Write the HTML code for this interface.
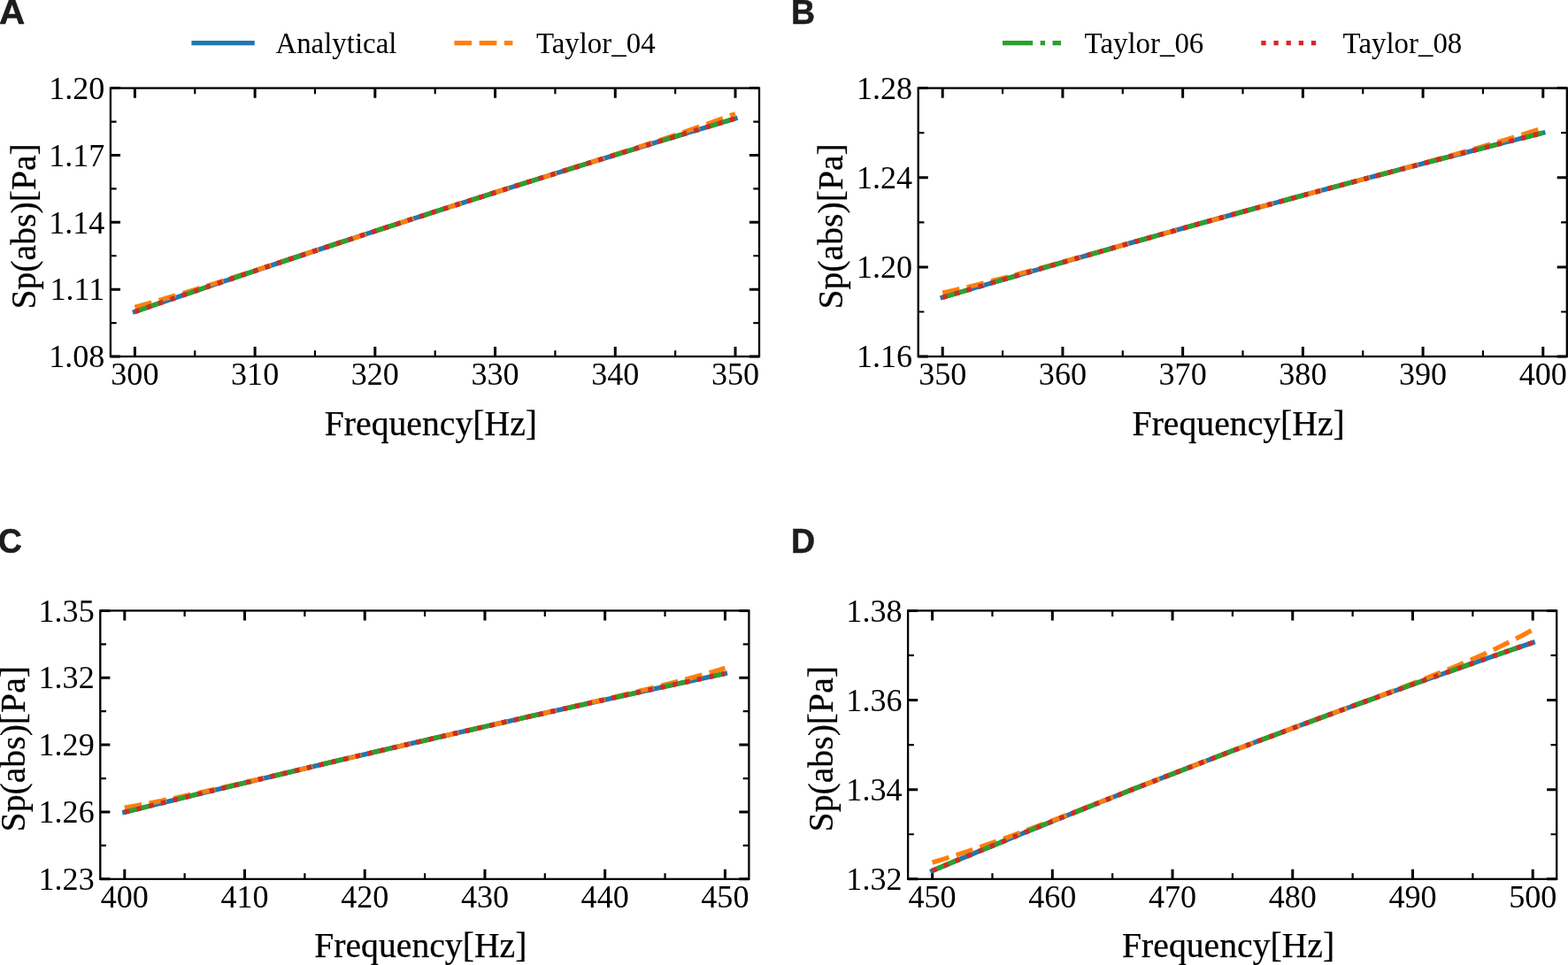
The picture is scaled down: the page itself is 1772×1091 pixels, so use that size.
<!DOCTYPE html>
<html lang="en"><head><meta charset="utf-8"><title>Sp(abs) vs Frequency: Analytical and Taylor expansions</title>
<style>html,body{margin:0;padding:0;background:#fff}body{width:1772px;height:1091px;overflow:hidden}svg{display:block}text{font-family:"Liberation Serif", "DejaVu Serif", serif;fill:#000}.al{stroke:#000;stroke-width:0.25px}.pl{font-family:"Liberation Sans", "DejaVu Sans", sans-serif;font-weight:700;fill:#1d1d1b;stroke:#1d1d1b;stroke-width:0.5px;stroke-linejoin:miter}</style>
</head><body>
<svg width="1772" height="1091" viewBox="0 0 1772 1091">
<rect width="1772" height="1091" fill="#fff"/>
<g>
<path d="M220.26 403.05v-6.7 M220.26 99.60v6.7 M355.98 403.05v-6.7 M355.98 99.60v6.7 M491.70 403.05v-6.7 M491.70 99.60v6.7 M627.42 403.05v-6.7 M627.42 99.60v6.7 M763.14 403.05v-6.7 M763.14 99.60v6.7 M124.90 365.12h6.7 M858.00 365.12h-6.7 M124.90 289.26h6.7 M858.00 289.26h-6.7 M124.90 213.39h6.7 M858.00 213.39h-6.7 M124.90 137.53h6.7 M858.00 137.53h-6.7" fill="none" stroke="#000" stroke-width="2.2"/>
<path d="M152.40 403.05v-11.1 M152.40 99.60v11.1 M288.12 403.05v-11.1 M288.12 99.60v11.1 M423.84 403.05v-11.1 M423.84 99.60v11.1 M559.56 403.05v-11.1 M559.56 99.60v11.1 M695.28 403.05v-11.1 M695.28 99.60v11.1 M831.00 403.05v-11.1 M831.00 99.60v11.1 M124.90 403.05h11.1 M858.00 403.05h-11.1 M124.90 327.19h11.1 M858.00 327.19h-11.1 M124.90 251.32h11.1 M858.00 251.32h-11.1 M124.90 175.46h11.1 M858.00 175.46h-11.1 M124.90 99.60h11.1 M858.00 99.60h-11.1" fill="none" stroke="#000" stroke-width="3"/>
<polyline points="152.40,352.40 165.97,347.73 179.54,343.07 193.12,338.42 206.69,333.78 220.26,329.16 233.83,324.55 247.40,319.95 260.98,315.36 274.55,310.79 288.12,306.23 301.69,301.68 315.26,297.14 328.84,292.62 342.41,288.11 355.98,283.61 369.55,279.12 383.12,274.65 396.70,270.19 410.27,265.74 423.84,261.30 437.41,256.88 450.98,252.46 464.56,248.06 478.13,243.68 491.70,239.30 505.27,234.94 518.84,230.59 532.42,226.25 545.99,221.92 559.56,217.61 573.13,213.31 586.70,209.02 600.28,204.74 613.85,200.48 627.42,196.23 640.99,191.99 654.56,187.76 668.14,183.55 681.71,179.35 695.28,175.16 708.85,170.98 722.42,166.82 736.00,162.67 749.57,158.53 763.14,154.40 776.71,150.29 790.28,146.18 803.86,142.09 817.43,138.02 831.00,133.95" fill="none" stroke="#1f77b4" stroke-width="5.333" stroke-linecap="square" stroke-linejoin="round"/>
<polyline points="152.40,347.20 165.97,343.49 179.54,339.64 193.12,335.67 206.69,331.61 220.26,327.46 233.83,323.23 247.40,318.94 260.98,314.61 274.55,310.23 288.12,305.83 301.69,301.39 315.26,296.95 328.84,292.49 342.41,288.02 355.98,283.56 369.55,279.09 383.12,274.63 396.70,270.18 410.27,265.73 423.84,261.30 437.41,256.87 450.98,252.46 464.56,248.06 478.13,243.68 491.70,239.30 505.27,234.94 518.84,230.59 532.42,226.25 545.99,221.92 559.56,217.61 573.13,213.30 586.70,209.01 600.28,204.73 613.85,200.45 627.42,196.18 640.99,191.90 654.56,187.63 668.14,183.35 681.71,179.06 695.28,174.75 708.85,170.41 722.42,166.05 736.00,161.64 749.57,157.18 763.14,152.66 776.71,148.07 790.28,143.39 803.86,138.60 817.43,133.69 831.00,128.65" fill="none" stroke="#ff7f0e" stroke-width="5.333" stroke-dasharray="19.732,8.533" stroke-linejoin="round"/>
<polyline points="152.40,352.40 165.97,347.73 179.54,343.07 193.12,338.42 206.69,333.78 220.26,329.16 233.83,324.55 247.40,319.95 260.98,315.36 274.55,310.79 288.12,306.23 301.69,301.68 315.26,297.14 328.84,292.62 342.41,288.11 355.98,283.61 369.55,279.12 383.12,274.65 396.70,270.19 410.27,265.74 423.84,261.30 437.41,256.88 450.98,252.46 464.56,248.06 478.13,243.68 491.70,239.30 505.27,234.94 518.84,230.59 532.42,226.25 545.99,221.92 559.56,217.61 573.13,213.31 586.70,209.02 600.28,204.74 613.85,200.48 627.42,196.23 640.99,191.99 654.56,187.76 668.14,183.55 681.71,179.35 695.28,175.16 708.85,170.98 722.42,166.82 736.00,162.67 749.57,158.53 763.14,154.40 776.71,150.29 790.28,146.18 803.86,142.09 817.43,138.02 831.00,133.95" fill="none" stroke="#2ca02c" stroke-width="5.333" stroke-dasharray="34.131,8.533,5.333,8.533" stroke-linejoin="round"/>
<polyline points="152.40,352.40 165.97,347.73 179.54,343.07 193.12,338.42 206.69,333.78 220.26,329.16 233.83,324.55 247.40,319.95 260.98,315.36 274.55,310.79 288.12,306.23 301.69,301.68 315.26,297.14 328.84,292.62 342.41,288.11 355.98,283.61 369.55,279.12 383.12,274.65 396.70,270.19 410.27,265.74 423.84,261.30 437.41,256.88 450.98,252.46 464.56,248.06 478.13,243.68 491.70,239.30 505.27,234.94 518.84,230.59 532.42,226.25 545.99,221.92 559.56,217.61 573.13,213.31 586.70,209.02 600.28,204.74 613.85,200.48 627.42,196.23 640.99,191.99 654.56,187.76 668.14,183.55 681.71,179.35 695.28,175.16 708.85,170.98 722.42,166.82 736.00,162.67 749.57,158.53 763.14,154.40 776.71,150.29 790.28,146.18 803.86,142.09 817.43,138.02 831.00,133.95" fill="none" stroke="#d62728" stroke-width="5.333" stroke-dasharray="5.333,8.799" stroke-linejoin="round"/>
<rect x="124.90" y="99.60" width="733.10" height="303.45" fill="none" stroke="#000" stroke-width="2.3"/>
<g font-size="36.1">
<text x="152.40" y="435.30" text-anchor="middle">300</text>
<text x="288.12" y="435.30" text-anchor="middle">310</text>
<text x="423.84" y="435.30" text-anchor="middle">320</text>
<text x="559.56" y="435.30" text-anchor="middle">330</text>
<text x="695.28" y="435.30" text-anchor="middle">340</text>
<text x="831.00" y="435.30" text-anchor="middle">350</text>
<text x="118.30" y="415.25" text-anchor="end">1.08</text>
<text x="118.30" y="339.39" text-anchor="end">1.11</text>
<text x="118.30" y="263.52" text-anchor="end">1.14</text>
<text x="118.30" y="187.66" text-anchor="end">1.17</text>
<text x="118.30" y="111.80" text-anchor="end">1.20</text>
</g>
<text class="al" x="486.90" y="491.60" text-anchor="middle" font-size="39.7">Frequency[Hz]</text>
<text class="al" transform="translate(39.60 255.90) rotate(-90)" text-anchor="middle" font-size="39.7">Sp(abs)[Pa]</text>
</g>
<g>
<path d="M1133.06 403.05v-6.7 M1133.06 99.60v6.7 M1268.78 403.05v-6.7 M1268.78 99.60v6.7 M1404.50 403.05v-6.7 M1404.50 99.60v6.7 M1540.22 403.05v-6.7 M1540.22 99.60v6.7 M1675.94 403.05v-6.7 M1675.94 99.60v6.7 M1037.70 352.48h6.7 M1770.80 352.48h-6.7 M1037.70 251.32h6.7 M1770.80 251.32h-6.7 M1037.70 150.17h6.7 M1770.80 150.17h-6.7" fill="none" stroke="#000" stroke-width="2.2"/>
<path d="M1065.20 403.05v-11.1 M1065.20 99.60v11.1 M1200.92 403.05v-11.1 M1200.92 99.60v11.1 M1336.64 403.05v-11.1 M1336.64 99.60v11.1 M1472.36 403.05v-11.1 M1472.36 99.60v11.1 M1608.08 403.05v-11.1 M1608.08 99.60v11.1 M1743.80 403.05v-11.1 M1743.80 99.60v11.1 M1037.70 403.05h11.1 M1770.80 403.05h-11.1 M1037.70 301.90h11.1 M1770.80 301.90h-11.1 M1037.70 200.75h11.1 M1770.80 200.75h-11.1 M1037.70 99.60h11.1 M1770.80 99.60h-11.1" fill="none" stroke="#000" stroke-width="3"/>
<polyline points="1065.20,336.30 1078.77,332.28 1092.34,328.27 1105.92,324.27 1119.49,320.28 1133.06,316.31 1146.63,312.35 1160.20,308.40 1173.78,304.46 1187.35,300.53 1200.92,296.62 1214.49,292.72 1228.06,288.83 1241.64,284.96 1255.21,281.09 1268.78,277.24 1282.35,273.40 1295.92,269.58 1309.50,265.76 1323.07,261.96 1336.64,258.17 1350.21,254.39 1363.78,250.62 1377.36,246.87 1390.93,243.13 1404.50,239.40 1418.07,235.68 1431.64,231.98 1445.22,228.29 1458.79,224.61 1472.36,220.94 1485.93,217.28 1499.50,213.64 1513.08,210.01 1526.65,206.39 1540.22,202.78 1553.79,199.19 1567.36,195.61 1580.94,192.04 1594.51,188.48 1608.08,184.93 1621.65,181.40 1635.22,177.88 1648.80,174.37 1662.37,170.87 1675.94,167.39 1689.51,163.92 1703.08,160.46 1716.66,157.01 1730.23,153.57 1743.80,150.15" fill="none" stroke="#1f77b4" stroke-width="5.333" stroke-linecap="square" stroke-linejoin="round"/>
<polyline points="1065.20,331.10 1078.77,328.04 1092.34,324.84 1105.92,321.52 1119.49,318.11 1133.06,314.60 1146.63,311.03 1160.20,307.39 1173.78,303.70 1187.35,299.98 1200.92,296.22 1214.49,292.44 1228.06,288.64 1241.64,284.82 1255.21,281.01 1268.78,277.19 1282.35,273.37 1295.92,269.56 1309.50,265.75 1323.07,261.95 1336.64,258.17 1350.21,254.39 1363.78,250.62 1377.36,246.87 1390.93,243.13 1404.50,239.40 1418.07,235.68 1431.64,231.98 1445.22,228.29 1458.79,224.61 1472.36,220.94 1485.93,217.28 1499.50,213.63 1513.08,209.99 1526.65,206.36 1540.22,202.73 1553.79,199.10 1567.36,195.47 1580.94,191.83 1594.51,188.17 1608.08,184.50 1621.65,180.81 1635.22,177.08 1648.80,173.30 1662.37,169.48 1675.94,165.59 1689.51,161.62 1703.08,157.55 1716.66,153.38 1730.23,149.09 1743.80,144.65" fill="none" stroke="#ff7f0e" stroke-width="5.333" stroke-dasharray="19.732,8.533" stroke-linejoin="round"/>
<polyline points="1065.20,336.30 1078.77,332.28 1092.34,328.27 1105.92,324.27 1119.49,320.28 1133.06,316.31 1146.63,312.35 1160.20,308.40 1173.78,304.46 1187.35,300.53 1200.92,296.62 1214.49,292.72 1228.06,288.83 1241.64,284.96 1255.21,281.09 1268.78,277.24 1282.35,273.40 1295.92,269.58 1309.50,265.76 1323.07,261.96 1336.64,258.17 1350.21,254.39 1363.78,250.62 1377.36,246.87 1390.93,243.13 1404.50,239.40 1418.07,235.68 1431.64,231.98 1445.22,228.29 1458.79,224.61 1472.36,220.94 1485.93,217.28 1499.50,213.64 1513.08,210.01 1526.65,206.39 1540.22,202.78 1553.79,199.19 1567.36,195.61 1580.94,192.04 1594.51,188.48 1608.08,184.93 1621.65,181.40 1635.22,177.88 1648.80,174.37 1662.37,170.87 1675.94,167.39 1689.51,163.92 1703.08,160.46 1716.66,157.01 1730.23,153.57 1743.80,150.15" fill="none" stroke="#2ca02c" stroke-width="5.333" stroke-dasharray="34.131,8.533,5.333,8.533" stroke-linejoin="round"/>
<polyline points="1065.20,336.30 1078.77,332.28 1092.34,328.27 1105.92,324.27 1119.49,320.28 1133.06,316.31 1146.63,312.35 1160.20,308.40 1173.78,304.46 1187.35,300.53 1200.92,296.62 1214.49,292.72 1228.06,288.83 1241.64,284.96 1255.21,281.09 1268.78,277.24 1282.35,273.40 1295.92,269.58 1309.50,265.76 1323.07,261.96 1336.64,258.17 1350.21,254.39 1363.78,250.62 1377.36,246.87 1390.93,243.13 1404.50,239.40 1418.07,235.68 1431.64,231.98 1445.22,228.29 1458.79,224.61 1472.36,220.94 1485.93,217.28 1499.50,213.64 1513.08,210.01 1526.65,206.39 1540.22,202.78 1553.79,199.19 1567.36,195.61 1580.94,192.04 1594.51,188.48 1608.08,184.93 1621.65,181.40 1635.22,177.88 1648.80,174.37 1662.37,170.87 1675.94,167.39 1689.51,163.92 1703.08,160.46 1716.66,157.01 1730.23,153.57 1743.80,150.15" fill="none" stroke="#d62728" stroke-width="5.333" stroke-dasharray="5.333,8.799" stroke-linejoin="round"/>
<rect x="1037.70" y="99.60" width="733.10" height="303.45" fill="none" stroke="#000" stroke-width="2.3"/>
<g font-size="36.1">
<text x="1065.20" y="435.30" text-anchor="middle">350</text>
<text x="1200.92" y="435.30" text-anchor="middle">360</text>
<text x="1336.64" y="435.30" text-anchor="middle">370</text>
<text x="1472.36" y="435.30" text-anchor="middle">380</text>
<text x="1608.08" y="435.30" text-anchor="middle">390</text>
<text x="1743.80" y="435.30" text-anchor="middle">400</text>
<text x="1031.10" y="415.25" text-anchor="end">1.16</text>
<text x="1031.10" y="314.10" text-anchor="end">1.20</text>
<text x="1031.10" y="212.95" text-anchor="end">1.24</text>
<text x="1031.10" y="111.80" text-anchor="end">1.28</text>
</g>
<text class="al" x="1399.70" y="491.60" text-anchor="middle" font-size="39.7">Frequency[Hz]</text>
<text class="al" transform="translate(952.40 255.90) rotate(-90)" text-anchor="middle" font-size="39.7">Sp(abs)[Pa]</text>
</g>
<g>
<path d="M208.66 993.85v-6.7 M208.66 690.40v6.7 M344.38 993.85v-6.7 M344.38 690.40v6.7 M480.10 993.85v-6.7 M480.10 690.40v6.7 M615.82 993.85v-6.7 M615.82 690.40v6.7 M751.54 993.85v-6.7 M751.54 690.40v6.7 M113.30 955.92h6.7 M846.40 955.92h-6.7 M113.30 880.06h6.7 M846.40 880.06h-6.7 M113.30 804.19h6.7 M846.40 804.19h-6.7 M113.30 728.33h6.7 M846.40 728.33h-6.7" fill="none" stroke="#000" stroke-width="2.2"/>
<path d="M140.80 993.85v-11.1 M140.80 690.40v11.1 M276.52 993.85v-11.1 M276.52 690.40v11.1 M412.24 993.85v-11.1 M412.24 690.40v11.1 M547.96 993.85v-11.1 M547.96 690.40v11.1 M683.68 993.85v-11.1 M683.68 690.40v11.1 M819.40 993.85v-11.1 M819.40 690.40v11.1 M113.30 993.85h11.1 M846.40 993.85h-11.1 M113.30 917.99h11.1 M846.40 917.99h-11.1 M113.30 842.12h11.1 M846.40 842.12h-11.1 M113.30 766.26h11.1 M846.40 766.26h-11.1 M113.30 690.40h11.1 M846.40 690.40h-11.1" fill="none" stroke="#000" stroke-width="3"/>
<polyline points="140.80,918.20 154.37,914.85 167.94,911.50 181.52,908.17 195.09,904.84 208.66,901.52 222.23,898.21 235.80,894.91 249.38,891.62 262.95,888.34 276.52,885.07 290.09,881.80 303.66,878.55 317.24,875.30 330.81,872.07 344.38,868.84 357.95,865.62 371.52,862.41 385.10,859.21 398.67,856.02 412.24,852.83 425.81,849.66 439.38,846.49 452.96,843.34 466.53,840.19 480.10,837.05 493.67,833.92 507.24,830.80 520.82,827.69 534.39,824.59 547.96,821.49 561.53,818.41 575.10,815.33 588.68,812.26 602.25,809.21 615.82,806.16 629.39,803.12 642.96,800.09 656.54,797.07 670.11,794.05 683.68,791.05 697.25,788.05 710.82,785.07 724.40,782.09 737.97,779.12 751.54,776.16 765.11,773.21 778.68,770.27 792.26,767.34 805.83,764.41 819.40,761.50" fill="none" stroke="#1f77b4" stroke-width="5.333" stroke-linecap="square" stroke-linejoin="round"/>
<polyline points="140.80,913.20 154.37,910.77 167.94,908.21 181.52,905.53 195.09,902.75 208.66,899.88 222.23,896.95 235.80,893.95 249.38,890.90 262.95,887.80 276.52,884.68 290.09,881.53 303.66,878.36 317.24,875.18 330.81,871.98 344.38,868.79 357.95,865.59 371.52,862.39 385.10,859.20 398.67,856.01 412.24,852.83 425.81,849.66 439.38,846.49 452.96,843.34 466.53,840.19 480.10,837.05 493.67,833.92 507.24,830.80 520.82,827.69 534.39,824.59 547.96,821.49 561.53,818.40 575.10,815.32 588.68,812.24 602.25,809.17 615.82,806.10 629.39,803.02 642.96,799.93 656.54,796.83 670.11,793.72 683.68,790.57 697.25,787.40 710.82,784.18 724.40,780.91 737.97,777.57 751.54,774.16 765.11,770.66 778.68,767.05 792.26,763.32 805.83,759.44 819.40,755.40" fill="none" stroke="#ff7f0e" stroke-width="5.333" stroke-dasharray="19.732,8.533" stroke-linejoin="round"/>
<polyline points="140.80,918.20 154.37,914.85 167.94,911.50 181.52,908.17 195.09,904.84 208.66,901.52 222.23,898.21 235.80,894.91 249.38,891.62 262.95,888.34 276.52,885.07 290.09,881.80 303.66,878.55 317.24,875.30 330.81,872.07 344.38,868.84 357.95,865.62 371.52,862.41 385.10,859.21 398.67,856.02 412.24,852.83 425.81,849.66 439.38,846.49 452.96,843.34 466.53,840.19 480.10,837.05 493.67,833.92 507.24,830.80 520.82,827.69 534.39,824.59 547.96,821.49 561.53,818.41 575.10,815.33 588.68,812.26 602.25,809.21 615.82,806.16 629.39,803.12 642.96,800.09 656.54,797.07 670.11,794.05 683.68,791.05 697.25,788.05 710.82,785.07 724.40,782.09 737.97,779.12 751.54,776.16 765.11,773.21 778.68,770.27 792.26,767.34 805.83,764.41 819.40,761.50" fill="none" stroke="#2ca02c" stroke-width="5.333" stroke-dasharray="34.131,8.533,5.333,8.533" stroke-linejoin="round"/>
<polyline points="140.80,918.20 154.37,914.85 167.94,911.50 181.52,908.17 195.09,904.84 208.66,901.52 222.23,898.21 235.80,894.91 249.38,891.62 262.95,888.34 276.52,885.07 290.09,881.80 303.66,878.55 317.24,875.30 330.81,872.07 344.38,868.84 357.95,865.62 371.52,862.41 385.10,859.21 398.67,856.02 412.24,852.83 425.81,849.66 439.38,846.49 452.96,843.34 466.53,840.19 480.10,837.05 493.67,833.92 507.24,830.80 520.82,827.69 534.39,824.59 547.96,821.49 561.53,818.41 575.10,815.33 588.68,812.26 602.25,809.21 615.82,806.16 629.39,803.12 642.96,800.09 656.54,797.07 670.11,794.05 683.68,791.05 697.25,788.05 710.82,785.07 724.40,782.09 737.97,779.12 751.54,776.16 765.11,773.21 778.68,770.27 792.26,767.34 805.83,764.41 819.40,761.50" fill="none" stroke="#d62728" stroke-width="5.333" stroke-dasharray="5.333,8.799" stroke-linejoin="round"/>
<rect x="113.30" y="690.40" width="733.10" height="303.45" fill="none" stroke="#000" stroke-width="2.3"/>
<g font-size="36.1">
<text x="140.80" y="1026.10" text-anchor="middle">400</text>
<text x="276.52" y="1026.10" text-anchor="middle">410</text>
<text x="412.24" y="1026.10" text-anchor="middle">420</text>
<text x="547.96" y="1026.10" text-anchor="middle">430</text>
<text x="683.68" y="1026.10" text-anchor="middle">440</text>
<text x="819.40" y="1026.10" text-anchor="middle">450</text>
<text x="106.70" y="1006.05" text-anchor="end">1.23</text>
<text x="106.70" y="930.19" text-anchor="end">1.26</text>
<text x="106.70" y="854.33" text-anchor="end">1.29</text>
<text x="106.70" y="778.46" text-anchor="end">1.32</text>
<text x="106.70" y="702.60" text-anchor="end">1.35</text>
</g>
<text class="al" x="475.30" y="1082.40" text-anchor="middle" font-size="39.7">Frequency[Hz]</text>
<text class="al" transform="translate(28.00 846.70) rotate(-90)" text-anchor="middle" font-size="39.7">Sp(abs)[Pa]</text>
</g>
<g>
<path d="M1121.46 993.85v-6.7 M1121.46 690.40v6.7 M1257.18 993.85v-6.7 M1257.18 690.40v6.7 M1392.90 993.85v-6.7 M1392.90 690.40v6.7 M1528.62 993.85v-6.7 M1528.62 690.40v6.7 M1664.34 993.85v-6.7 M1664.34 690.40v6.7 M1026.10 943.27h6.7 M1759.20 943.27h-6.7 M1026.10 842.12h6.7 M1759.20 842.12h-6.7 M1026.10 740.97h6.7 M1759.20 740.97h-6.7" fill="none" stroke="#000" stroke-width="2.2"/>
<path d="M1053.60 993.85v-11.1 M1053.60 690.40v11.1 M1189.32 993.85v-11.1 M1189.32 690.40v11.1 M1325.04 993.85v-11.1 M1325.04 690.40v11.1 M1460.76 993.85v-11.1 M1460.76 690.40v11.1 M1596.48 993.85v-11.1 M1596.48 690.40v11.1 M1732.20 993.85v-11.1 M1732.20 690.40v11.1 M1026.10 993.85h11.1 M1759.20 993.85h-11.1 M1026.10 892.70h11.1 M1759.20 892.70h-11.1 M1026.10 791.55h11.1 M1759.20 791.55h-11.1 M1026.10 690.40h11.1 M1759.20 690.40h-11.1" fill="none" stroke="#000" stroke-width="3"/>
<polyline points="1053.60,984.40 1067.17,978.73 1080.74,973.07 1094.32,967.44 1107.89,961.83 1121.46,956.24 1135.03,950.67 1148.60,945.12 1162.18,939.59 1175.75,934.08 1189.32,928.60 1202.89,923.14 1216.46,917.69 1230.04,912.27 1243.61,906.87 1257.18,901.49 1270.75,896.13 1284.32,890.79 1297.90,885.48 1311.47,880.18 1325.04,874.91 1338.61,869.65 1352.18,864.42 1365.76,859.21 1379.33,854.02 1392.90,848.85 1406.47,843.70 1420.04,838.57 1433.62,833.47 1447.19,828.38 1460.76,823.32 1474.33,818.28 1487.90,813.26 1501.48,808.26 1515.05,803.28 1528.62,798.32 1542.19,793.38 1555.76,788.46 1569.34,783.57 1582.91,778.69 1596.48,773.84 1610.05,769.01 1623.62,764.20 1637.20,759.41 1650.77,754.64 1664.34,749.89 1677.91,745.17 1691.48,740.46 1705.06,735.78 1718.63,731.11 1732.20,726.47" fill="none" stroke="#1f77b4" stroke-width="5.333" stroke-linecap="square" stroke-linejoin="round"/>
<polyline points="1053.60,975.10 1067.17,970.99 1080.74,966.68 1094.32,962.21 1107.89,957.58 1121.46,952.83 1135.03,947.96 1148.60,943.00 1162.18,937.95 1175.75,932.84 1189.32,927.67 1202.89,922.45 1216.46,917.20 1230.04,911.93 1243.61,906.64 1257.18,901.34 1270.75,896.04 1284.32,890.74 1297.90,885.45 1311.47,880.17 1325.04,874.90 1338.61,869.65 1352.18,864.42 1365.76,859.21 1379.33,854.02 1392.90,848.85 1406.47,843.70 1420.04,838.57 1433.62,833.47 1447.19,828.38 1460.76,823.32 1474.33,818.27 1487.90,813.23 1501.48,808.21 1515.05,803.19 1528.62,798.17 1542.19,793.14 1555.76,788.09 1569.34,783.02 1582.91,777.90 1596.48,772.71 1610.05,767.45 1623.62,762.09 1637.20,756.60 1650.77,750.96 1664.34,745.14 1677.91,739.10 1691.48,732.81 1705.06,726.22 1718.63,719.29 1732.20,711.97" fill="none" stroke="#ff7f0e" stroke-width="5.333" stroke-dasharray="19.732,8.533" stroke-linejoin="round"/>
<polyline points="1053.60,984.40 1067.17,978.73 1080.74,973.07 1094.32,967.44 1107.89,961.83 1121.46,956.24 1135.03,950.67 1148.60,945.12 1162.18,939.59 1175.75,934.08 1189.32,928.60 1202.89,923.14 1216.46,917.69 1230.04,912.27 1243.61,906.87 1257.18,901.49 1270.75,896.13 1284.32,890.79 1297.90,885.48 1311.47,880.18 1325.04,874.91 1338.61,869.65 1352.18,864.42 1365.76,859.21 1379.33,854.02 1392.90,848.85 1406.47,843.70 1420.04,838.57 1433.62,833.47 1447.19,828.38 1460.76,823.32 1474.33,818.28 1487.90,813.26 1501.48,808.26 1515.05,803.28 1528.62,798.32 1542.19,793.38 1555.76,788.46 1569.34,783.57 1582.91,778.69 1596.48,773.84 1610.05,769.01 1623.62,764.20 1637.20,759.41 1650.77,754.64 1664.34,749.89 1677.91,745.17 1691.48,740.46 1705.06,735.78 1718.63,731.11 1732.20,726.47" fill="none" stroke="#2ca02c" stroke-width="5.333" stroke-dasharray="34.131,8.533,5.333,8.533" stroke-linejoin="round"/>
<polyline points="1053.60,984.40 1067.17,978.73 1080.74,973.07 1094.32,967.44 1107.89,961.83 1121.46,956.24 1135.03,950.67 1148.60,945.12 1162.18,939.59 1175.75,934.08 1189.32,928.60 1202.89,923.14 1216.46,917.69 1230.04,912.27 1243.61,906.87 1257.18,901.49 1270.75,896.13 1284.32,890.79 1297.90,885.48 1311.47,880.18 1325.04,874.91 1338.61,869.65 1352.18,864.42 1365.76,859.21 1379.33,854.02 1392.90,848.85 1406.47,843.70 1420.04,838.57 1433.62,833.47 1447.19,828.38 1460.76,823.32 1474.33,818.28 1487.90,813.26 1501.48,808.26 1515.05,803.28 1528.62,798.32 1542.19,793.38 1555.76,788.46 1569.34,783.57 1582.91,778.69 1596.48,773.84 1610.05,769.01 1623.62,764.20 1637.20,759.41 1650.77,754.64 1664.34,749.89 1677.91,745.17 1691.48,740.46 1705.06,735.78 1718.63,731.11 1732.20,726.47" fill="none" stroke="#d62728" stroke-width="5.333" stroke-dasharray="5.333,8.799" stroke-linejoin="round"/>
<rect x="1026.10" y="690.40" width="733.10" height="303.45" fill="none" stroke="#000" stroke-width="2.3"/>
<g font-size="36.1">
<text x="1053.60" y="1026.10" text-anchor="middle">450</text>
<text x="1189.32" y="1026.10" text-anchor="middle">460</text>
<text x="1325.04" y="1026.10" text-anchor="middle">470</text>
<text x="1460.76" y="1026.10" text-anchor="middle">480</text>
<text x="1596.48" y="1026.10" text-anchor="middle">490</text>
<text x="1732.20" y="1026.10" text-anchor="middle">500</text>
<text x="1019.50" y="1006.05" text-anchor="end">1.32</text>
<text x="1019.50" y="904.90" text-anchor="end">1.34</text>
<text x="1019.50" y="803.75" text-anchor="end">1.36</text>
<text x="1019.50" y="702.60" text-anchor="end">1.38</text>
</g>
<text class="al" x="1388.10" y="1082.40" text-anchor="middle" font-size="39.7">Frequency[Hz]</text>
<text class="al" transform="translate(940.80 846.70) rotate(-90)" text-anchor="middle" font-size="39.7">Sp(abs)[Pa]</text>
</g>
<g font-size="32.9">
<path d="M219.10 48.70h66" fill="none" stroke="#1f77b4" stroke-width="5.333" stroke-linecap="square"/>
<text x="311.40" y="60.30">Analytical</text>
<path d="M513.40 48.70h66" fill="none" stroke="#ff7f0e" stroke-width="5.333" stroke-dasharray="19.732,8.533"/>
<text x="605.90" y="60.30">Taylor_04</text>
<path d="M1133.00 48.70h66" fill="none" stroke="#2ca02c" stroke-width="5.333" stroke-dasharray="34.131,8.533,5.333,8.533"/>
<text x="1225.60" y="60.30">Taylor_06</text>
<path d="M1425.30 48.70h66" fill="none" stroke="#d62728" stroke-width="5.333" stroke-dasharray="5.333,8.799"/>
<text x="1517.60" y="60.30">Taylor_08</text>
</g>
<g class="pl" font-size="37.5">
<text class="pl" transform="translate(-1.05 26.6) scale(1.08 1.045)">A</text>
<text class="pl" transform="translate(894.1 26.6) scale(1 1.045)">B</text>
<text class="pl" transform="translate(-2.3 625) scale(1 1.045)">C</text>
<text class="pl" transform="translate(894.1 625) scale(1 1.045)">D</text>
</g>
</svg>
</body></html>
